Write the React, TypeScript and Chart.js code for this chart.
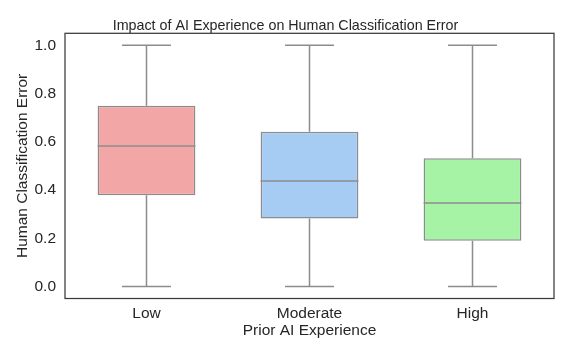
import React, { useEffect, useRef } from "react";
import { Chart, registerables } from "chart.js";

Chart.register(...registerables);

const categories = ["Low", "Moderate", "High"];
const minValues = [0.0, 0.0, 0.0];
const q1Values = [0.378, 0.282, 0.19];
const medianValues = [0.583, 0.4375, 0.346];
const q3Values = [0.75, 0.642, 0.532];
const maxValues = [1.0, 1.0, 1.0];
const yTicks = [0.0, 0.2, 0.4, 0.6, 0.8, 1.0];
const boxColors = ["#F2A6A6", "#A6CCF3", "#A6F3A6"];

const LINE = "#8c8c8c";
const TEXT = "#262626";
const FONT = "'Liberation Sans', Arial, sans-serif";

const boxExtras = {
  id: "boxExtras",
  beforeDatasetsDraw(chart: any) {
    const { ctx, scales } = chart;
    const x = scales.x;
    const y = scales.y;
    const meta = chart.getDatasetMeta(0);
    ctx.save();
    ctx.strokeStyle = LINE;
    ctx.lineWidth = 1.5;
    meta.data.forEach((bar: any, i: number) => {
      const cx = x.getPixelForValue(i);
      const w = bar.getProps(["width"], true).width;
      const capHalf = w / 4;
      const yMin = y.getPixelForValue(minValues[i]);
      const yMax = y.getPixelForValue(maxValues[i]);
      const yQ1 = y.getPixelForValue(q1Values[i]);
      const yQ3 = y.getPixelForValue(q3Values[i]);
      ctx.beginPath();
      ctx.moveTo(cx, yQ3);
      ctx.lineTo(cx, yMax);
      ctx.moveTo(cx - capHalf, yMax);
      ctx.lineTo(cx + capHalf, yMax);
      ctx.moveTo(cx, yQ1);
      ctx.lineTo(cx, yMin);
      ctx.moveTo(cx - capHalf, yMin);
      ctx.lineTo(cx + capHalf, yMin);
      ctx.stroke();
    });
    ctx.restore();
  },
  afterDatasetsDraw(chart: any) {
    const { ctx, scales, chartArea } = chart;
    const x = scales.x;
    const y = scales.y;
    const meta = chart.getDatasetMeta(0);
    ctx.save();
    ctx.strokeStyle = LINE;
    ctx.lineWidth = 1.5;
    meta.data.forEach((bar: any, i: number) => {
      const cx = x.getPixelForValue(i);
      const w = bar.getProps(["width"], true).width;
      const ym = y.getPixelForValue(medianValues[i]);
      ctx.beginPath();
      ctx.moveTo(cx - w / 2, ym);
      ctx.lineTo(cx + w / 2, ym);
      ctx.stroke();
    });
    ctx.strokeStyle = "#3a3a3a";
    ctx.lineWidth = 1.25;
    ctx.strokeRect(
      chartArea.left,
      chartArea.top,
      chartArea.right - chartArea.left,
      chartArea.bottom - chartArea.top
    );
    ctx.restore();
  },
};

export default function App() {
  const ref = useRef<HTMLCanvasElement | null>(null);
  useEffect(() => {
    if (!ref.current) return;
    const chart = new Chart(ref.current, {
      type: "bar",
      data: {
        labels: categories,
        datasets: [
          {
            data: categories.map((_, i) => [q1Values[i], q3Values[i]]) as any,
            backgroundColor: boxColors,
            borderColor: LINE,
            borderWidth: 1.5,
            borderSkipped: false,
            barPercentage: 0.6,
            categoryPercentage: 1.0,
          },
        ],
      },
      options: {
        responsive: false,
        animation: false,
        layout: { padding: { left: 0, right: 0, top: 0, bottom: 0 } },
        plugins: {
          legend: { display: false },
          tooltip: { enabled: false },
          title: {
            display: true,
            text: "Impact of AI Experience on Human Classification Error",
            color: TEXT,
            font: { family: FONT, size: 14.3, weight: "normal", lineHeight: 1.0 },
            padding: { top: 19, bottom: 0 },
          },
        },
        scales: {
          x: {
            offset: true,
            grid: { display: false, drawTicks: false },
            border: { display: false },
            ticks: {
              color: TEXT,
              font: { family: FONT, size: 15.5 },
              padding: 6,
            },
            title: {
              display: true,
              text: "Prior AI Experience",
              color: TEXT,
              font: { family: FONT, size: 15.5 },
              padding: { top: 0, bottom: 17 },
            },
            afterFit(scale: any) {
              scale.height = 58.5;
            },
          },
          y: {
            min: -0.05,
            max: 1.05,
            grid: { display: false, drawTicks: false },
            border: { display: false },
            ticks: {
              color: TEXT,
              font: { family: FONT, size: 15.5 },
              padding: 9,
              callback: (v: any) => Number(v).toFixed(1),
            },
            afterBuildTicks(scale: any) {
              scale.ticks = yTicks.map((v) => ({ value: v }));
            },
            title: {
              display: true,
              text: "Human Classification Error",
              color: TEXT,
              font: { family: FONT, size: 15.5 },
              padding: { top: 13, bottom: 0 },
            },
            afterFit(scale: any) {
              scale.width = 65;
            },
          },
          yRight: {
            position: "right",
            display: true,
            grid: { display: false, drawTicks: false },
            border: { display: false },
            ticks: { display: false },
            afterFit(scale: any) {
              scale.width = 17;
            },
          },
        },
      },
      plugins: [boxExtras],
    });
    return () => chart.destroy();
  }, []);
  return (
    <div style={{ position: "fixed", left: 0, top: 0, width: 571, height: 357 }}>
      <canvas ref={ref} width={571} height={357} style={{ display: "block" }} />
    </div>
  );
}
